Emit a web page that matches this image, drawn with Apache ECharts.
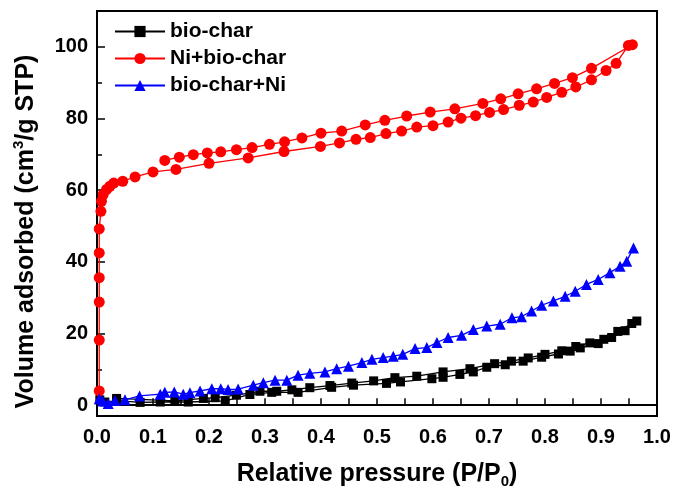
<!DOCTYPE html>
<html>
<head>
<meta charset="utf-8">
<script src="https://cdn.jsdelivr.net/npm/echarts@6/dist/echarts.min.js"></script>
<style>html,body{margin:0;padding:0;background:#fff;}#c{width:673px;height:490px;}</style>
</head>
<body>
<div id="c"></div>
<script>
var seriesNames = ['bio-char', 'Ni+bio-char', 'bio-char+Ni'];
var yMajorTicks = [0, 20, 40, 60, 80, 100];
var yMinorTicks = [10, 30, 50, 70, 90];

var bioCharAds = [[0.005,1.5],[0.014,0.9],[0.035,1.3],[0.077,0.8],[0.113,0.9],[0.163,0.9],[0.229,1.2],[0.273,3.0],[0.312,3.6],[0.359,3.6],[0.419,5.0],[0.458,5.6],[0.517,6.1],[0.542,6.5],[0.598,7.4],[0.618,7.8],[0.648,8.6],[0.672,9.3],[0.696,10.6],[0.729,11.3],[0.761,12.3],[0.794,13.4],[0.824,14.3],[0.845,15.1],[0.863,16.0],[0.895,17.2],[0.919,18.9],[0.943,20.8],[0.964,23.5]];
var bioCharDes = [[0.955,22.8],[0.930,20.6],[0.905,18.4],[0.880,17.4],[0.855,16.4],[0.830,15.2],[0.800,14.2],[0.770,13.2],[0.740,12.3],[0.710,11.6],[0.666,10.2],[0.618,9.3],[0.571,8.1],[0.532,7.7],[0.494,6.8],[0.455,6.2],[0.416,5.5],[0.380,4.9],[0.348,4.3],[0.321,3.9],[0.291,3.9],[0.249,2.8],[0.211,2.1],[0.190,1.9],[0.139,1.2],[0.035,1.9]];

var niBioAds = [[0.004,4.0],[0.004,18.2],[0.004,28.8],[0.004,35.6],[0.004,42.5],[0.004,49.2],[0.007,54.1],[0.008,56.9],[0.011,58.8],[0.017,60.2],[0.023,61.1],[0.030,62.0],[0.046,62.5],[0.068,63.7],[0.100,65.1],[0.141,65.8],[0.200,67.5],[0.270,69.0],[0.334,70.8],[0.399,72.2],[0.433,73.2],[0.4625,74.2],[0.488,74.7],[0.516,75.8],[0.544,76.5],[0.571,77.6],[0.600,78.0],[0.627,79.0],[0.650,80.1],[0.676,80.8],[0.701,81.7],[0.726,82.5],[0.754,83.7],[0.779,84.6],[0.803,85.9],[0.830,87.3],[0.855,88.8],[0.883,90.8],[0.909,93.4],[0.927,95.4],[0.949,100.4]];
var niBioDes = [[0.956,100.6],[0.883,94.0],[0.849,91.4],[0.817,89.8],[0.785,88.3],[0.752,86.9],[0.721,85.5],[0.689,84.2],[0.639,82.7],[0.595,81.8],[0.553,80.7],[0.514,79.5],[0.479,78.2],[0.437,76.5],[0.400,75.9],[0.366,74.6],[0.335,73.5],[0.308,72.8],[0.277,71.9],[0.249,71.3],[0.221,70.7],[0.197,70.4],[0.172,69.9],[0.147,69.2],[0.121,68.3]];

var bioNi = [[0.004,1.8],[0.010,1.2],[0.020,0.5],[0.032,1.3],[0.050,1.5],[0.076,2.6],[0.113,3.1],[0.121,3.6],[0.138,3.7],[0.154,3.1],[0.166,3.5],[0.184,4.0],[0.205,4.6],[0.221,4.6],[0.234,4.4],[0.252,4.5],[0.279,5.6],[0.297,6.3],[0.318,7.0],[0.339,7.0],[0.359,8.4],[0.380,8.9],[0.407,9.3],[0.428,10.2],[0.449,10.9],[0.473,11.9],[0.491,12.8],[0.511,13.3],[0.529,13.7],[0.546,14.2],[0.568,15.8],[0.589,16.1],[0.607,17.5],[0.627,18.9],[0.651,19.5],[0.672,21.1],[0.696,22.1],[0.720,22.6],[0.741,24.4],[0.758,24.7],[0.776,26.3],[0.794,27.9],[0.815,29.1],[0.836,30.4],[0.854,31.8],[0.874,33.7],[0.895,35.1],[0.916,37.0],[0.934,38.8],[0.946,40.2],[0.958,43.9]];

var FONT = '"Liberation Sans", Arial, sans-serif';
var chart = echarts.init(document.getElementById('c'), null, {renderer: 'canvas'});
chart.setOption({
  animation: false,
  backgroundColor: '#fff',
  grid: {left: 97, right: 16, top: 11, bottom: 74, outerBoundsMode: 'none', containLabel: false, show: true, borderColor: '#000', borderWidth: 2, backgroundColor: 'transparent'},
  legend: {
    orient: 'vertical', left: 109, top: 16, itemWidth: 50, itemHeight: 14, itemGap: 6,
    data: seriesNames,
    textStyle: {fontFamily: FONT, fontWeight: 'bold', fontSize: 21, color: '#000'}
  },
  xAxis: {
    type: 'value', min: 0, max: 1, interval: 0.1,
    axisLine: {lineStyle: {color: '#000', width: 2}},
    axisTick: {inside: true, length: 7, lineStyle: {color: '#000', width: 1.5}},
    minorTick: {show: true, splitNumber: 2, length: 7, lineStyle: {color: '#000', width: 1.5}},
    splitLine: {show: false},
    axisLabel: {margin: 11, fontFamily: FONT, fontWeight: 'bold', fontSize: 20, color: '#000', formatter: function (v) { return v.toFixed(1); }},
    name: '{a|Relative pressure (P/P}{s|0}{a|)}',
    nameLocation: 'middle', nameGap: 43,
    nameTextStyle: {rich: {
      a: {fontFamily: FONT, fontWeight: 'bold', fontSize: 25, color: '#000', lineHeight: 30},
      s: {fontFamily: FONT, fontWeight: 'bold', fontSize: 15, color: '#000', verticalAlign: 'bottom', lineHeight: 30, padding: [10, 0, 0, 0]}
    }}
  },
  yAxis: [{
    type: 'value', min: -3, max: 110,
    axisLine: {lineStyle: {color: '#000', width: 2}},
    axisTick: {inside: true, length: 8, customValues: yMajorTicks, lineStyle: {color: '#000', width: 1.5}},
    splitLine: {show: false},
    axisLabel: {customValues: yMajorTicks, margin: 9, fontFamily: FONT, fontWeight: 'bold', fontSize: 20, color: '#000'},
    name: '{a|Volume adsorbed (cm}{s|3}{a|/g STP)}',
    nameLocation: 'middle', nameGap: 56, nameRotate: 90,
    nameTextStyle: {padding: [0, 36, 0, 0], rich: {
      a: {fontFamily: FONT, fontWeight: 'bold', fontSize: 25, color: '#000', lineHeight: 30},
      s: {fontFamily: FONT, fontWeight: 'bold', fontSize: 15, color: '#000', verticalAlign: 'top', lineHeight: 30, padding: [0, 0, 10, 0]}
    }}
  }, {
    type: 'value', min: -3, max: 110, position: 'left', offset: 0,
    axisLine: {show: false},
    axisTick: {inside: true, length: 5, customValues: yMinorTicks, lineStyle: {color: '#000', width: 1.5}},
    splitLine: {show: false},
    axisLabel: {show: false}
  }],
  series: [{
    name: seriesNames[0], type: 'line', data: bioCharAds.concat(bioCharDes),
    symbol: 'rect', symbolSize: 9, color: '#000',
    lineStyle: {color: '#000', width: 1.3}, itemStyle: {color: '#000'}
  }, {
    name: seriesNames[1], type: 'line', data: niBioAds.concat(niBioDes),
    symbol: 'circle', symbolSize: 11, color: '#ff0000',
    lineStyle: {color: '#ff0000', width: 1.3}, itemStyle: {color: '#ff0000'}
  }, {
    name: seriesNames[2], type: 'line', data: bioNi,
    symbol: 'triangle', symbolSize: 11, color: '#0000ff',
    lineStyle: {color: '#0000ff', width: 1.3}, itemStyle: {color: '#0000ff'}
  }]
});
</script>
</body>
</html>
